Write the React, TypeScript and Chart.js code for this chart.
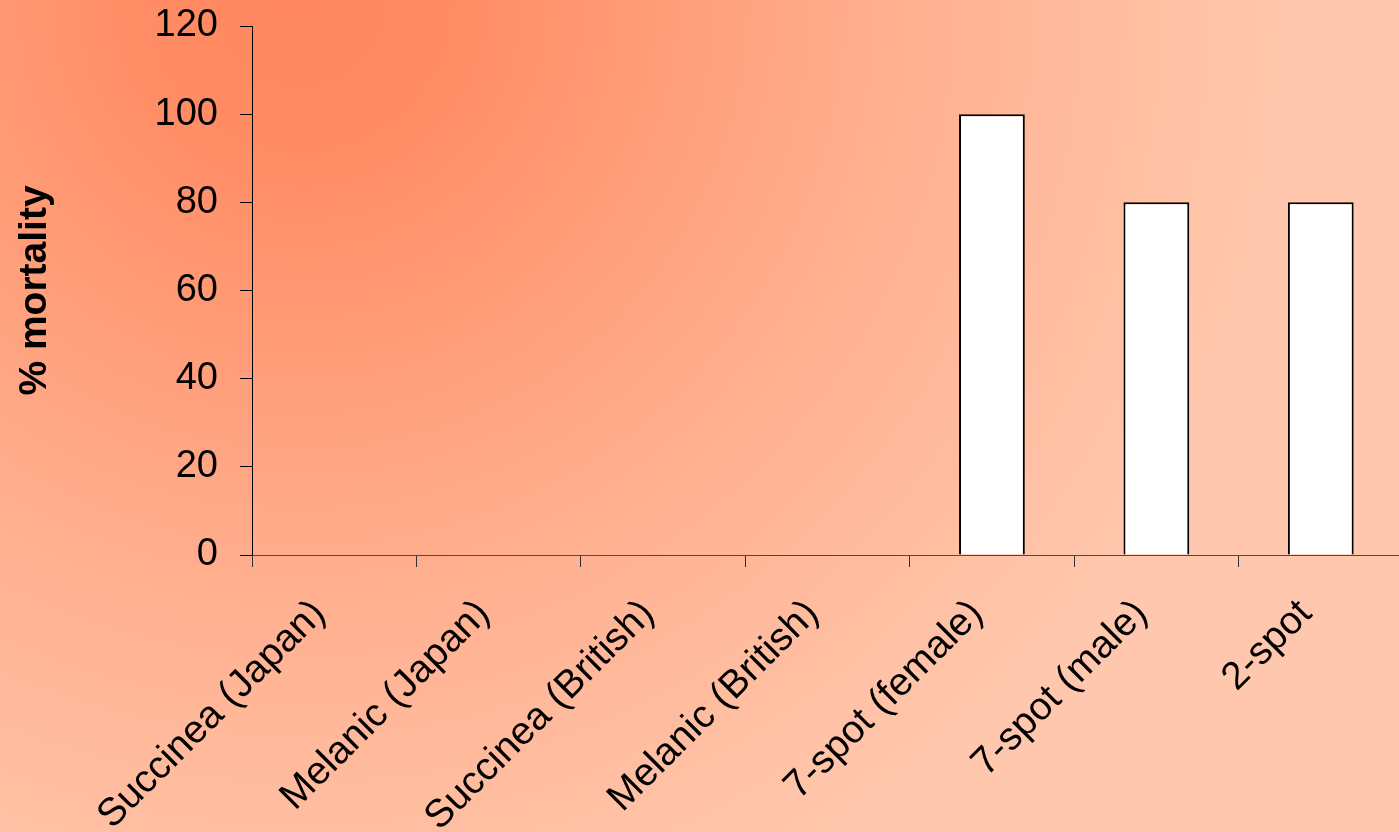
import React, { useEffect, useRef } from "react";
import { Chart, registerables } from "chart.js";

Chart.register(...registerables);

const categories = [
  "Succinea (Japan)",
  "Melanic (Japan)",
  "Succinea (British)",
  "Melanic (British)",
  "7-spot (female)",
  "7-spot (male)",
  "2-spot",
];
const mortality = [0, 0, 0, 0, 100, 80, 80];
const yTickValues = [0, 20, 40, 60, 80, 100, 120];
const yTitle = "% mortality";

const CANVAS_W = 1403;
const CANVAS_H = 832;
const FONT = "'Liberation Sans', Arial, sans-serif";

const backgroundPlugin = {
  id: "bgGradient",
  beforeDraw(chart: any) {
    const ctx = chart.ctx;
    const g = ctx.createRadialGradient(300, 0, 0, 300, 0, 1000);
    g.addColorStop(0, "#FF8860");
    g.addColorStop(0.15, "#FF8C64");
    g.addColorStop(0.6, "#FFB090");
    g.addColorStop(1, "#FFC8AE");
    ctx.save();
    ctx.fillStyle = g;
    ctx.fillRect(0, 0, chart.width, chart.height);
    ctx.restore();
  },
};

export default function App() {
  const ref = useRef<HTMLCanvasElement | null>(null);

  useEffect(() => {
    document.body.style.margin = "0";
    const canvas = ref.current;
    if (!canvas) return;
    const chart = new Chart(canvas, {
      type: "bar",
      data: {
        labels: categories,
        datasets: [
          {
            data: mortality,
            backgroundColor: "#FFFFFF",
            borderColor: "#000000",
            borderWidth: 2,
            categoryPercentage: 1,
            barPercentage: 0.4,
          },
        ],
      },
      options: {
        responsive: false,
        animation: false,
        devicePixelRatio: 1,
        layout: { padding: { top: 26, left: 0, right: 0, bottom: 0 } },
        plugins: {
          legend: { display: false },
          tooltip: { enabled: false },
        },
        scales: {
          x: {
            offset: true,
            grid: {
              offset: true,
              drawOnChartArea: false,
              drawTicks: true,
              tickLength: 12,
              color: "#333333",
              lineWidth: 1,
            },
            border: { display: true, color: "#4a4a4a", width: 1 },
            ticks: {
              autoSkip: false,
              minRotation: 45,
              maxRotation: 45,
              padding: 24,
              labelOffset: -15,
              color: "#000000",
              font: { family: FONT, size: 39 },
            },
            afterFit(scale: any) {
              scale.height = 277;
            },
          },
          y: {
            min: 0,
            max: 120,
            afterBuildTicks(scale: any) {
              scale.ticks = yTickValues.map((v) => ({ value: v }));
            },
            grid: {
              drawOnChartArea: false,
              drawTicks: true,
              tickLength: 12,
              color: "#000000",
              lineWidth: 1,
            },
            border: { display: true, color: "#000000", width: 1 },
            ticks: {
              padding: 22,
              color: "#000000",
              font: { family: FONT, size: 38 },
            },
            title: {
              display: true,
              text: yTitle,
              color: "#000000",
              font: { family: FONT, size: 39, weight: "bold" },
              padding: { top: 12, bottom: 0 },
            },
            afterFit(scale: any) {
              scale.width = 252;
              scale.paddingTop = 0;
              scale.paddingBottom = 0;
            },
          },
        },
      },
      plugins: [backgroundPlugin],
    });
    return () => chart.destroy();
  }, []);

  return (
    <div
      style={{
        position: "fixed",
        left: 0,
        top: 0,
        width: 1399,
        height: 832,
        overflow: "hidden",
      }}
    >
      <canvas
        ref={ref}
        width={CANVAS_W}
        height={CANVAS_H}
        style={{ display: "block", width: CANVAS_W, height: CANVAS_H }}
      />
    </div>
  );
}
